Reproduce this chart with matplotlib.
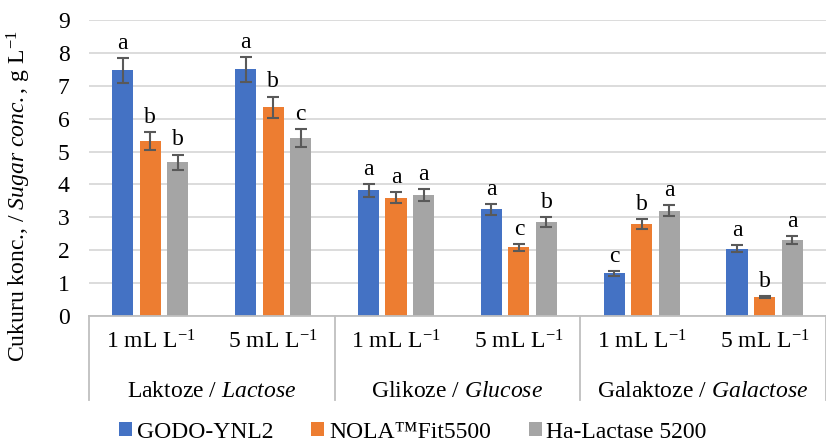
import matplotlib
matplotlib.use("Agg")
import matplotlib.pyplot as plt
import numpy as np

plt.rcParams['font.family'] = 'Liberation Serif'
plt.rcParams['mathtext.fontset'] = 'custom'
plt.rcParams['mathtext.rm'] = 'Liberation Serif'
plt.rcParams['mathtext.it'] = 'Liberation Serif:style=italic'

doses = ['1 mL L$^{-1}$', '5 mL L$^{-1}$'] * 3
sugars = ['Laktoze / $\\it{Lactose}$', 'Glikoze / $\\it{Glucose}$',
          'Galaktoze / $\\it{Galactose}$']
series = ['GODO-YNL2', 'NOLA™Fit5500', 'Ha-Lactase 5200']
colors = ['#4472C4', '#ED7D31', '#A5A5A5']

godo = [7.47, 7.50, 3.82, 3.24, 1.30, 2.05]
nola = [5.31, 6.35, 3.60, 2.09, 2.80, 0.57]
halac = [4.68, 5.41, 3.68, 2.85, 3.20, 2.31]
godo_err = [0.38, 0.37, 0.20, 0.17, 0.07, 0.10]
nola_err = [0.27, 0.32, 0.17, 0.10, 0.14, 0.03]
halac_err = [0.23, 0.28, 0.18, 0.15, 0.17, 0.12]
godo_lbl = ['a', 'a', 'a', 'a', 'c', 'a']
nola_lbl = ['b', 'b', 'a', 'c', 'b', 'b']
halac_lbl = ['b', 'c', 'a', 'b', 'a', 'a']

values = [godo, nola, halac]
errors = [godo_err, nola_err, halac_err]
letters = [godo_lbl, nola_lbl, halac_lbl]

fs = 17
fig = plt.figure(figsize=(8.26, 4.46), dpi=100)
ax = fig.add_axes([0.1077, 0.2915, 0.8923, 0.6636])

x = np.arange(len(doses))
offsets = [-0.224, 0, 0.224]
width = 0.172
for vals, errs, lbls, off, c, name in zip(values, errors, letters, offsets, colors, series):
    ax.bar(x + off, vals, width, color=c, label=name, zorder=2)
    ax.errorbar(x + off, vals, yerr=errs, fmt='none', ecolor='#595959',
                elinewidth=1.5, capsize=4, capthick=1.5, zorder=3)
    for xi, v, e, l in zip(x + off, vals, errs, lbls):
        ax.annotate(l, (xi, v + e), xytext=(0, 3), textcoords='offset points',
                    ha='center', va='bottom', fontsize=fs)

ax.set_xlim(-0.5, len(doses) - 0.5)
ax.set_ylim(0, 9)
ax.set_yticks(range(10))
ax.yaxis.grid(True, color='#D9D9D9', linewidth=1.3, zorder=0)
ax.tick_params(axis='y', length=0, labelsize=fs, pad=14)
ax.tick_params(axis='x', length=0, labelsize=fs, pad=10)
ax.set_xticks(x)
ax.set_xticklabels(doses)
for s in ['left', 'right', 'top']:
    ax.spines[s].set_visible(False)
ax.spines['bottom'].set_color('#BFBFBF')
ax.spines['bottom'].set_linewidth(1.3)

# group separators and group names below the dose labels
trans = ax.get_xaxis_transform()
for b in [-0.5, 1.5, 3.5, 5.5]:
    ax.plot([b, b], [0, -0.285], transform=trans, color='#BFBFBF',
            linewidth=1.3, clip_on=False)
for i, s in enumerate(sugars):
    ax.text(2 * i + 0.5, -0.255, s, transform=trans, ha='center',
            va='center', fontsize=fs)

fig.text(0.023, 0.56, 'Cukuru konc., / $\\it{Sugar\\ conc.}$, g L$^{-1}$',
         rotation=90, ha='center', va='center', fontsize=fs)

fig.legend(loc='lower center', bbox_to_anchor=(0.5, -0.04), ncol=3,
           frameon=False, fontsize=fs, handlelength=0.55, handleheight=0.55,
           handletextpad=0.2, columnspacing=1.6)

fig.savefig('out.png', dpi=100)
